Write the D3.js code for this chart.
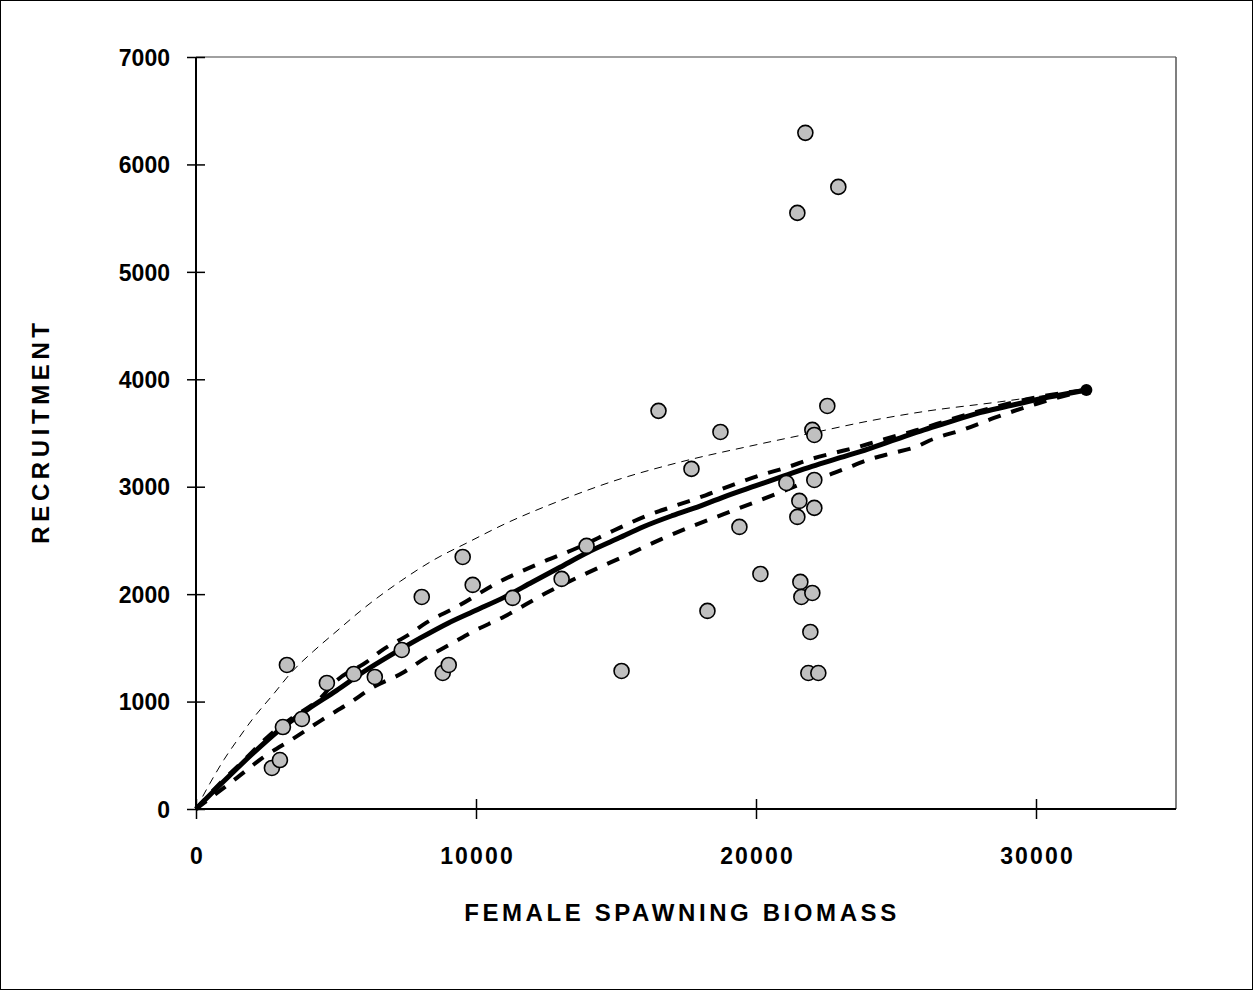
<!DOCTYPE html>
<html>
<head>
<meta charset="utf-8">
<script src="https://cdn.jsdelivr.net/npm/d3@7"></script>
<style>
html,body{margin:0;padding:0;background:#fff;}
svg{display:block;}
text{font-family:"Liberation Sans",Arial,sans-serif;font-weight:bold;fill:#000;}
</style>
</head>
<body>
<svg id="chart" width="1253" height="990"></svg>
<script>
// ---- data ----
const xTicks = [0, 10000, 20000, 30000];
const yTicks = [0, 1000, 2000, 3000, 4000, 5000, 6000, 7000];
const xTitle = "FEMALE SPAWNING BIOMASS";
const yTitle = "RECRUITMENT";

// observed spawning biomass / recruitment pairs
const obsBiomass = [2711, 2997, 3104, 3247, 3782, 4674, 5637, 6386, 7349, 8063,
  8812, 9026, 9525, 9882, 11309, 13058, 13949, 15198, 16518, 17695,
  18266, 18730, 19408, 20157, 21085, 21548, 21477, 21584, 21620, 22012,
  21941, 21869, 22226, 22083, 22083, 22012, 22083, 22547, 21763, 22940, 21477];
const obsRecruit = [382, 456, 763, 1341, 838, 1173, 1257, 1229, 1480, 1974,
  1266, 1341, 2346, 2086, 1965, 2142, 2449, 1285, 3706, 3166,
  1844, 3510, 2626, 2188, 3035, 2868, 2719, 2114, 1974, 2011,
  1648, 1266, 1266, 3063, 2803, 3529, 3482, 3752, 6294, 5791, 5549];

// fitted (median) curve
const fitX = [0, 1000, 2000, 3000, 4000, 5000, 6000, 7000, 8000, 9000, 10000, 11000, 12000,
  13000, 14000, 15000, 16000, 17000, 18000, 19000, 20000, 21000, 22000, 23000, 24000,
  25000, 26000, 27000, 28000, 29000, 30000, 31000, 31800];
const fitY = [0, 260, 510, 740, 930, 1100, 1280, 1440, 1590, 1730, 1850, 1970, 2110,
  2250, 2390, 2510, 2630, 2730, 2820, 2920, 3010, 3100, 3190, 3270, 3350,
  3440, 3530, 3610, 3690, 3750, 3810, 3860, 3900];

// upper bound curve
const upX = [0, 900, 1700, 2600, 3500, 4400, 5000, 6100, 6600, 7700, 8200, 9300, 10800,
  12300, 13700, 14900, 16100, 17200, 18200, 19300, 20200, 21100, 22000, 22800, 23500,
  24300, 25100, 25800, 27000, 28500, 30000, 31800];
const upY = [0, 250, 450, 680, 860, 1020, 1190, 1370, 1470, 1640, 1730, 1880, 2110,
  2290, 2440, 2590, 2730, 2830, 2920, 3030, 3110, 3180, 3260, 3315, 3360,
  3420, 3480, 3530, 3630, 3740, 3830, 3900];

// lower bound curve
const loX = [0, 1460, 2400, 3500, 4500, 5500, 6300, 7400, 8100, 9200, 9800, 11000, 12500,
  14000, 15400, 16600, 17700, 18800, 19900, 20800, 21800, 22600, 23300, 24000, 24900,
  25700, 26200, 27500, 28500, 30000, 31800];
const loY = [0, 290, 480, 660, 830, 990, 1130, 1270, 1390, 1550, 1640, 1790, 2010,
  2200, 2365, 2510, 2630, 2740, 2850, 2940, 3045, 3110, 3180, 3250, 3315,
  3370, 3430, 3540, 3640, 3770, 3900];

// alternative (thin dashed) curve
const altX = [0, 500, 1000, 1500, 2000, 2800, 3400, 4200, 5000, 6000, 7300, 8500, 9700,
  11000, 13000, 15000, 17300, 20000, 22000, 24000, 26000, 28700, 30500, 31800];
const altY = [0, 240, 460, 650, 830, 1080, 1270, 1470, 1650, 1870, 2120, 2320, 2480,
  2650, 2870, 3060, 3230, 3390, 3500, 3610, 3700, 3790, 3855, 3900];

// ---- drawing ----
const svg = d3.select("#chart");
const W = 1253, H = 990;
const m = {left: 196, top: 57, right: 1176, bottom: 809};

const x = d3.scaleLinear().domain([0, 35000]).range([m.left, m.right]);
const y = d3.scaleLinear().domain([0, 7000]).range([m.bottom, m.top]);

// outer frame
svg.append("rect").attr("x", 0.5).attr("y", 0.5).attr("width", W - 1).attr("height", H - 1)
  .attr("fill", "#fff").attr("stroke", "#000").attr("stroke-width", 1);

// plot frame top & right
svg.append("line").attr("x1", m.left).attr("x2", m.right).attr("y1", m.top).attr("y2", m.top)
  .attr("stroke", "#808080").attr("stroke-width", 1.5);
svg.append("line").attr("x1", m.right).attr("x2", m.right).attr("y1", m.top).attr("y2", m.bottom)
  .attr("stroke", "#555").attr("stroke-width", 1.5);

// curves
const pairs = (xs, ys) => xs.map((v, i) => [v, ys[i]]);
const line = d3.line().x(d => x(d[0])).y(d => y(d[1])).curve(d3.curveMonotoneX);

svg.append("path").datum(pairs(altX, altY)).attr("d", line)
  .attr("fill", "none").attr("stroke", "#000").attr("stroke-width", 1)
  .attr("stroke-dasharray", "8,6");

svg.append("path").datum(pairs(upX, upY)).attr("d", line)
  .attr("fill", "none").attr("stroke", "#000").attr("stroke-width", 4)
  .attr("stroke-dasharray", "13,11");
svg.append("path").datum(pairs(loX, loY)).attr("d", line)
  .attr("fill", "none").attr("stroke", "#000").attr("stroke-width", 4)
  .attr("stroke-dasharray", "13,11");

svg.append("path").datum(pairs(fitX, fitY)).attr("d", line)
  .attr("fill", "none").attr("stroke", "#000").attr("stroke-width", 5)
  .attr("stroke-linejoin", "round");

// end dot of fitted curve
svg.append("circle").attr("cx", x(fitX[fitX.length - 1])).attr("cy", y(fitY[fitY.length - 1]))
  .attr("r", 6).attr("fill", "#000");

// observations
svg.append("g").selectAll("circle").data(d3.range(obsBiomass.length)).join("circle")
  .attr("cx", i => x(obsBiomass[i])).attr("cy", i => y(obsRecruit[i]))
  .attr("r", 7.5).attr("fill", "#c0c0c0").attr("stroke", "#000").attr("stroke-width", 1.6);

// axes (cross ticks)
const yAxis = d3.axisLeft(y).tickValues(yTicks).tickSize(9).tickPadding(17).tickFormat(d3.format("d"));
const gy = svg.append("g").attr("transform", `translate(${m.left},0)`).call(yAxis);
gy.selectAll(".tick line").attr("x2", -9).attr("x1", 9).attr("stroke", "#000").attr("stroke-width", 1.5);
gy.select(".domain").attr("stroke", "#000").attr("stroke-width", 2).attr("d", `M0,${m.bottom}V${m.top}`);
gy.selectAll(".tick text").attr("font-size", 23).attr("font-family", "Liberation Sans, Arial, sans-serif")
  .attr("font-weight", "bold").attr("letter-spacing", 0).attr("fill", "#000").attr("dy", "0.36em");

const xAxis = d3.axisBottom(x).tickValues(xTicks).tickSize(10).tickPadding(22).tickFormat(d3.format("d"));
const gx = svg.append("g").attr("transform", `translate(0,${m.bottom})`).call(xAxis);
gx.selectAll(".tick text").attr("font-size", 23).attr("font-family", "Liberation Sans, Arial, sans-serif")
  .attr("font-weight", "bold").attr("letter-spacing", 2.2).attr("fill", "#000")
  .attr("y", 55).attr("dy", 0).attr("dx", 1.1);
gx.selectAll(".tick line").attr("y1", -10).attr("y2", 10).attr("stroke", "#000").attr("stroke-width", 1.5);
gx.select(".domain").attr("stroke", "#000").attr("stroke-width", 2).attr("d", `M${m.left},0H${m.right}`);

// titles
svg.append("text").attr("x", 682).attr("y", 921)
  .attr("text-anchor", "middle").attr("font-size", 24).attr("letter-spacing", 3.6)
  .text(xTitle);
svg.append("text").attr("transform", `translate(49,431) rotate(-90)`)
  .attr("text-anchor", "middle").attr("font-size", 24).attr("letter-spacing", 4.6)
  .text(yTitle);
</script>
</body>
</html>
